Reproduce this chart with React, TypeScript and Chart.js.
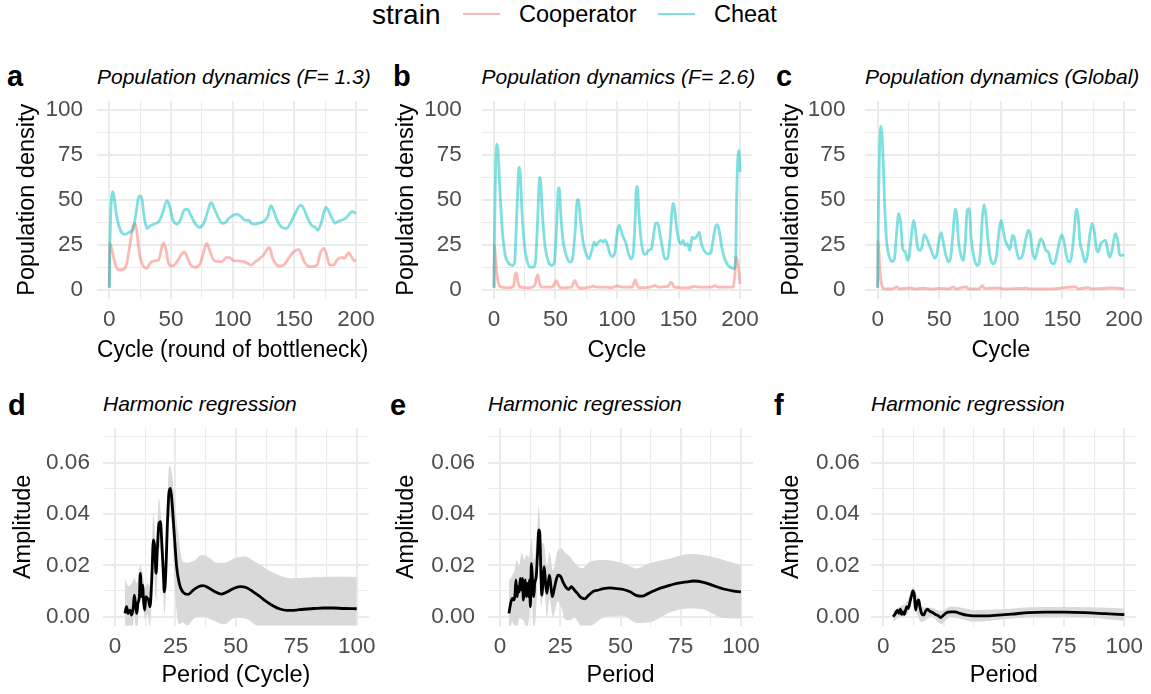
import React, { useEffect, useRef } from "react";
import { Chart, registerables } from "chart.js";
Chart.register(...registerables);

const FONT = "'Liberation Sans', Arial, Helvetica, sans-serif";
const COOP = "rgba(248,118,109,0.5)";
const CHEAT = "rgba(0,191,196,0.5)";
const GRID = "#EBEBEB";
const TICK = "#4D4D4D";
const RIBBON = "#D9D9D9";

// ---------- Panel a (F = 1.3) ----------
const aCheatX = [0, 0.5, 2.5, 3.5, 6, 10, 13, 17, 19, 22, 24, 26, 28, 30.5, 33, 36.5, 40, 42.7, 46.8, 49, 51.6, 55, 57.6, 60.8, 63.5, 66, 69.8, 73, 76.5, 79.7, 82.5, 85, 88, 91.4, 94, 96.8, 100.8, 103.5, 106, 110, 113.8, 115, 118.4, 122.4, 125, 128.4, 131, 133, 136, 140, 143.5, 146.8, 150.8, 155, 157.6, 160.3, 163.8, 167, 169, 171.7, 173.8, 175.7, 178, 180.6, 183.3, 185, 188.7, 191.4, 194, 196.8, 200];
const aCheatY = [1, 26, 54.5, 53, 40.6, 31.7, 30.7, 32.2, 33, 44, 52, 51.7, 41.5, 34, 35.4, 36.5, 37.8, 41.5, 49.5, 46, 38.7, 36.5, 38.7, 44.3, 44.7, 41.5, 36.5, 34.6, 36.9, 43.4, 48.5, 45.2, 40.6, 36.9, 37.2, 39.6, 41.5, 42, 41, 38.7, 38.3, 36.9, 36.5, 37.2, 37.8, 40.6, 46.7, 44.3, 38.7, 34.6, 34, 36.9, 42.5, 47, 45.2, 40.6, 35.9, 34.6, 33, 36.9, 42.5, 45.8, 43.4, 39.6, 36.9, 37.8, 38.7, 39.6, 41.5, 43.4, 42.4];
const aCoopX = [0, 0.3, 1.4, 5, 7.6, 11, 13.8, 16.5, 19.2, 21, 22.5, 24.6, 27.9, 30.5, 33, 36.5, 40, 42, 44, 46, 48, 51, 55, 58, 61, 63.5, 66, 69.8, 73.8, 76.5, 79, 82, 84.6, 88, 91.4, 95, 98, 100.8, 104.9, 109, 113, 115, 118.4, 122.4, 125.7, 128.4, 130, 132, 134.6, 138, 141.4, 145.4, 149.5, 153.5, 155.4, 158, 161, 164.3, 168.4, 171, 173.8, 176, 178.6, 182, 184.6, 188.7, 190.6, 194, 196, 198, 200];
const aCoopY = [1, 25.5, 24, 13.6, 10.9, 11.2, 13.6, 23.9, 35.4, 36.5, 31.3, 19.2, 12.7, 11.8, 14.6, 16, 16.4, 22, 26, 22, 14.6, 13.1, 15.5, 19.2, 21, 17.4, 13.6, 12.4, 14.6, 21, 25.7, 20.5, 16.4, 15.5, 15.5, 17.9, 17.7, 16, 16, 15.5, 14.2, 13.6, 15.5, 17.4, 19.8, 22.9, 23.3, 18.3, 14.6, 13.1, 13.6, 17.4, 21, 22.4, 20.1, 15.5, 13.1, 12.7, 13.6, 20.1, 22.9, 19.8, 13.6, 13.6, 16.4, 17.9, 17.4, 20.5, 18.7, 16.4, 16];

// ---------- Panel b (F = 2.6) ----------
const bCheatX = [0, 0.3, 2.2, 3.2, 5.1, 7, 9.2, 11.9, 15.1, 16.8, 18, 19.5, 20.3, 21.4, 22.7, 24.6, 26.8, 29.5, 32.2, 34, 35.7, 37, 37.8, 39.5, 41.6, 44.3, 47, 49.2, 51, 52.4, 53.2, 54.6, 56.5, 59.2, 61.9, 63.8, 66, 67.6, 68.6, 70.3, 72.7, 75.4, 77.3, 79.5, 81.6, 83, 84.9, 87, 89, 90.3, 92.4, 94.3, 96.2, 98.4, 99.7, 101.6, 103.2, 105, 107, 109, 111.4, 113.2, 114.6, 116, 116.8, 117.8, 120, 122.2, 124, 125.4, 128, 129.5, 131.4, 133, 134.9, 136.8, 139, 141, 143, 144.3, 145.7, 147, 148.4, 150.3, 151.9, 153.8, 155, 157.3, 159.2, 161, 163.2, 165.4, 166.8, 168.6, 170.8, 173.5, 176.2, 178.1, 180, 181.6, 183.5, 185.4, 187.6, 190.3, 193, 195, 196.5, 197.3, 198.4, 199.2, 200];
const bCheatY = [1, 24.6, 81, 77.7, 51.6, 31, 19, 14.7, 13.4, 15.3, 33, 59, 68, 64.6, 44, 25.5, 16.2, 12.5, 12.5, 18, 42.3, 62.4, 61, 40.4, 23.6, 15.3, 13.4, 16.2, 36.7, 56.8, 55.3, 38.5, 25.5, 18, 15.3, 17.1, 33, 49.7, 50, 38.5, 25.5, 19, 17.1, 21.8, 26.4, 24.6, 26.4, 27.4, 26.4, 27.7, 24.6, 19.9, 18.4, 20.9, 29.2, 35.8, 33, 29.2, 26.4, 20.9, 17.1, 19.9, 36.7, 57.5, 56.2, 42.3, 25.5, 19.6, 19.9, 21.8, 22.7, 29.2, 37, 37, 31.1, 23.6, 17.1, 17.1, 27.4, 40.4, 47.9, 44.1, 34.8, 27.4, 25.5, 27.4, 24.6, 25.5, 21.8, 29.2, 28.3, 30.2, 32, 25.5, 21.8, 19.9, 20.3, 27.4, 34.8, 36.1, 31.1, 22.7, 17.1, 13.4, 12.1, 11.5, 18, 51.6, 74.9, 77.3, 65.5];
const bCoopX = [0, 0.3, 1, 2.4, 4.3, 6.5, 12, 16, 17.3, 18.1, 19.5, 21.4, 28, 33, 34.6, 35.7, 36.8, 38.9, 47, 49.2, 50.8, 52.4, 55, 63, 64.9, 66, 67.6, 70, 78, 80.8, 83.5, 90.3, 95.7, 100.5, 103.8, 112, 114, 115, 116.5, 118.6, 126.7, 130.8, 133.5, 141.6, 143.8, 144.9, 146.5, 157.8, 163.2, 168.6, 176.8, 179.5, 182, 194.3, 195.7, 197, 198.4, 200];
const bCoopY = [1, 24.6, 20, 8.8, 2.2, 1.3, 0.9, 2.2, 8.8, 9.3, 4.1, 1.3, 0.9, 2.2, 6.9, 8.2, 4.1, 1.3, 1.3, 3.2, 5, 2.2, 0.9, 1.3, 4.1, 5, 2.2, 0.7, 1.3, 1.9, 1.3, 1.3, 1.1, 2, 1.3, 1.3, 4.1, 5.4, 2.2, 0.9, 1.3, 2.2, 1.3, 1.7, 4.1, 3.5, 1.3, 0.9, 1.7, 1.3, 1.3, 2.2, 1.3, 1.3, 6.9, 18, 14.3, 3.2];

// ---------- Panel c (Global) ----------
const cCheatX = [0, 0.3, 2.5, 3.5, 4.6, 5.9, 7.3, 9.5, 11.6, 13.5, 15.4, 17, 18.6, 20.3, 22.4, 24.3, 25.7, 27.6, 29.2, 30.5, 32.4, 34.3, 35.9, 37.8, 39.7, 41.9, 44, 46.2, 47.8, 50, 51.6, 53.2, 55.4, 57.6, 59.5, 61.4, 63, 64.1, 65.7, 67.6, 69.5, 71.1, 72.7, 74.3, 75.9, 78.4, 81, 83.2, 85.1, 86.5, 87.8, 89.7, 91.9, 94, 96.5, 98.6, 100.3, 101.9, 103.5, 105.4, 107.3, 109.5, 110.8, 112.7, 114.9, 117.6, 120.3, 122.4, 124.1, 125.7, 127.8, 129.7, 132.4, 134.3, 136.5, 138.6, 140.8, 143.2, 145.9, 147.8, 149.5, 151.4, 153.2, 155.4, 157.6, 159.5, 161.4, 162.7, 164.3, 166.2, 168.4, 170.3, 172.2, 174.3, 176, 177.6, 179.2, 181.1, 183, 185.1, 186.5, 188.4, 190, 191.9, 193.2, 194.9, 196.5, 198.1, 200];
const cCheatY = [1, 27, 91, 86, 69, 43, 26.4, 18, 15.6, 17, 32, 42.3, 37.6, 22.7, 20.9, 16.2, 19, 32, 38.5, 33.9, 23.6, 21.8, 23.6, 30.5, 28.7, 24.6, 20.9, 17.5, 19, 28.3, 31.7, 26.4, 19, 15.3, 19, 33.9, 44.7, 42.3, 26.4, 19, 16.2, 26.4, 44.1, 45, 28.3, 17.1, 13.4, 19, 41.3, 47.3, 41.3, 26.4, 16.2, 14.3, 19, 33, 38.5, 33, 27.4, 24.6, 22.2, 30.2, 29.2, 21.8, 17.1, 19, 28.3, 33, 30.2, 20.9, 17.1, 21.8, 28.3, 26.4, 21.8, 20.9, 15.3, 14.3, 20.9, 27.4, 30.5, 26.4, 19, 15.3, 19, 32, 44.7, 41.3, 26.4, 20.9, 15.3, 19, 30.2, 36.7, 32, 22.7, 20.9, 25.5, 26.8, 27.4, 22.7, 18, 20.9, 28.3, 31.1, 27.4, 19.4, 19, 19.4];
const cCoopX = [0, 0.3, 1.9, 3.5, 5.4, 12, 15.4, 17.6, 27, 29.7, 36.5, 44.6, 50, 58, 61.4, 63.5, 71.6, 73.8, 82, 85.1, 86.8, 98.6, 101.4, 120.3, 125, 140, 160.3, 163, 171, 174, 190.5, 200];
const cCoopY = [1, 27, 9.7, 1.9, 0.4, 0.4, 1.5, 0.4, 0.9, 0.4, 0.7, 0.4, 0.6, 0.4, 1.5, 0.4, 1.5, 0.4, 0.4, 2.2, 0.6, 0.9, 0.4, 0.7, 0.4, 0.4, 1.5, 0.4, 1.1, 0.4, 0.9, 0.4];

// ---------- Panel d (harmonic regression, F = 1.3) ----------
const dPeriod = [4.1, 4.8, 5.4, 6.2, 6.9, 7.6, 8, 8.6, 9, 9.5, 10.1, 10.5, 11, 11.4, 11.9, 12.3, 12.8, 13.4, 13.9, 14.5, 15.2, 15.9, 16.4, 17, 17.5, 18.2, 18.8, 19.3, 20, 20.4, 21, 21.7, 22.3, 22.9, 23.4, 24.4, 25.5, 26.6, 28.3, 30.3, 32.4, 34.5, 36.6, 38.6, 41.4, 44.1, 46.5, 49, 51.7, 54.5, 57.2, 60, 62.8, 65.5, 68.3, 71, 73.8, 77.9, 82.3, 86.2, 90.3, 94.5, 100];
const dAmp = [0.0013, 0.0039, 0.0013, 0.0026, 0.0006, 0.0039, 0.0084, 0.0039, 0.0013, 0.0052, 0.0078, 0.0169, 0.0078, 0.0123, 0.0052, 0.0026, 0.0078, 0.0071, 0.0065, 0.0039, 0.0143, 0.0299, 0.0273, 0.0169, 0.026, 0.0364, 0.037, 0.0299, 0.0169, 0.0097, 0.0169, 0.0364, 0.048, 0.05, 0.0468, 0.0338, 0.0195, 0.013, 0.0094, 0.0087, 0.0104, 0.0117, 0.0121, 0.0113, 0.0097, 0.0088, 0.0097, 0.011, 0.0117, 0.0113, 0.0097, 0.0078, 0.0058, 0.0042, 0.003, 0.0025, 0.0025, 0.0029, 0.0032, 0.0034, 0.0034, 0.0032, 0.0031];
const dBandX = [4.1, 5.5, 7, 8, 9, 10.5, 11.5, 12.5, 13.5, 14.5, 15.9, 17, 18.2, 19.5, 20.5, 22.5, 23.5, 25, 26.5, 28, 30, 33, 36, 39, 42, 45, 50, 54, 57, 62, 67, 72, 80, 90, 100];
const dUpper = [0.015, 0.012, 0.013, 0.015, 0.013, 0.02, 0.016, 0.011, 0.013, 0.012, 0.04, 0.028, 0.046, 0.033, 0.021, 0.059, 0.056, 0.042, 0.03, 0.0215, 0.021, 0.022, 0.024, 0.023, 0.021, 0.021, 0.023, 0.0235, 0.022, 0.019, 0.0165, 0.015, 0.0153, 0.0156, 0.0155];
const dLower = [-0.012, -0.008, -0.011, 0.001, -0.01, 0.014, 0.006, -0.001, 0.001, -0.004, 0.02, 0.006, 0.027, 0.021, 0.001, 0.039, 0.036, 0.008, -0.003, -0.0023, -0.0034, -0.0004, 0, -0.0008, -0.002, -0.003, -0.0004, -0.0007, -0.0024, -0.006, -0.0093, -0.01, -0.0093, -0.0088, -0.0093];

// ---------- Panel e (harmonic regression, F = 2.6) ----------
const ePeriod = [3.7, 4.4, 5.1, 5.8, 6.2, 6.6, 7.1, 7.5, 8, 8.4, 8.9, 9.3, 9.7, 10.1, 10.5, 10.9, 11.4, 11.8, 12.2, 12.6, 13, 13.4, 14, 14.4, 15, 15.5, 16.1, 16.5, 16.9, 17.3, 17.9, 18.3, 18.8, 19.4, 19.9, 20.5, 21, 21.7, 22.4, 23.3, 24.1, 25.2, 26.3, 27.4, 28.5, 29.6, 30.7, 32.1, 33.5, 35.2, 36.8, 38.8, 40.9, 42.9, 45.7, 48.5, 51.2, 54, 56.8, 58.9, 61.6, 65.1, 69.3, 73.4, 77.6, 80.3, 84.5, 88.6, 92.8, 97, 100];
const eAmp = [0.0013, 0.0052, 0.0071, 0.0065, 0.0084, 0.0143, 0.0078, 0.0117, 0.0097, 0.0149, 0.0104, 0.0149, 0.0065, 0.0117, 0.0143, 0.0078, 0.013, 0.0078, 0.0143, 0.0039, 0.0208, 0.0156, 0.0078, 0.013, 0.0156, 0.0234, 0.0338, 0.0325, 0.0195, 0.0084, 0.0143, 0.0195, 0.0143, 0.0091, 0.0123, 0.0162, 0.013, 0.0078, 0.0104, 0.0143, 0.0162, 0.0156, 0.0132, 0.0114, 0.0106, 0.0117, 0.0106, 0.0091, 0.0075, 0.007, 0.0084, 0.0099, 0.0104, 0.0109, 0.0112, 0.0109, 0.0106, 0.0097, 0.0082, 0.008, 0.0091, 0.0106, 0.0119, 0.013, 0.0136, 0.0139, 0.0134, 0.0121, 0.0108, 0.01, 0.0097];
const eBandX = [3.7, 5, 6, 7, 8, 9, 10, 11, 12, 13, 14, 15, 16.1, 17, 18.3, 19.5, 20.5, 22, 24, 25.5, 27, 29, 31, 34, 37.4, 43, 51, 56.8, 62, 70.6, 79, 84.5, 92.8, 100];
const eUpper = [0.014, 0.016, 0.018, 0.022, 0.02, 0.025, 0.022, 0.024, 0.023, 0.03, 0.022, 0.028, 0.043, 0.03, 0.028, 0.02, 0.025, 0.018, 0.026, 0.0266, 0.025, 0.0234, 0.021, 0.0188, 0.0214, 0.0221, 0.0208, 0.0188, 0.0208, 0.0227, 0.0244, 0.024, 0.0221, 0.0201];
const eLower = [-0.011, -0.002, -0.004, -0.006, -0.0006, -0.001, -0.002, -0.006, -0.001, 0.01, -0.006, 0.003, 0.025, 0.004, 0.011, 0, 0.007, 0, 0.006, 0.0034, -0.001, -0.0014, -0.0004, -0.0042, -0.0038, -0.0003, 0.0004, -0.0024, -0.0022, 0.0017, 0.0032, 0.0028, -0.0005, -0.0007];

// ---------- Panel f (harmonic regression, Global) ----------
const fPeriod = [4.1, 5.1, 5.9, 6.5, 7.1, 7.6, 8.2, 8.7, 9.3, 9.8, 10.4, 11.1, 11.8, 12.3, 12.9, 13.4, 14.1, 14.7, 15.2, 15.9, 16.7, 17.6, 18.4, 19.2, 20.3, 21.7, 22.8, 23.9, 25, 26.4, 27.8, 29.7, 31.8, 34.6, 37.3, 42.2, 47.7, 53.3, 60.2, 67.1, 75.4, 83.7, 92, 100];
const fAmp = [0, 0.0013, 0.0026, 0.0013, 0.0029, 0.0009, 0.0019, 0.0009, 0.0026, 0.0039, 0.0032, 0.0058, 0.0084, 0.0101, 0.0084, 0.0026, 0.0058, 0.0065, 0.0039, 0.0013, 0.0006, 0.0022, 0.0029, 0.0022, 0.0017, 0.0009, 0.0004, -0.0003, 0.0006, 0.0016, 0.0019, 0.0019, 0.0013, 0.0006, 0.0003, 0.0003, 0.0006, 0.001, 0.0016, 0.0018, 0.0018, 0.0016, 0.0012, 0.0008];
const fBandX = [4.1, 7, 10, 12.3, 14, 16, 20, 24, 28, 32, 38, 50, 65, 80, 100];
const fUpper = [0.002, 0.004, 0.006, 0.0115, 0.0085, 0.004, 0.0035, 0.0022, 0.004, 0.0036, 0.0026, 0.003, 0.0038, 0.0038, 0.0032];
const fLower = [-0.002, 0, 0.001, 0.0085, 0.001, -0.002, 0, -0.0028, 0, -0.0008, -0.002, -0.001, 0, -0.0001, -0.0016];

// ---------- Axes ----------
const topXTicks = [0, 25, 50, 75, 100, 125, 150, 175, 200];
const topXLabels = [0, 50, 100, 150, 200];
const topYTicks = [0, 12.5, 25, 37.5, 50, 62.5, 75, 87.5, 100];
const topYLabels = [0, 25, 50, 75, 100];
const botXTicks = [0, 12.5, 25, 37.5, 50, 62.5, 75, 87.5, 100];
const botXLabels = [0, 25, 50, 75, 100];
const botYTicks = [0, 0.01, 0.02, 0.03, 0.04, 0.05, 0.06, 0.07];
const botYLabels = [0, 0.02, 0.04, 0.06];

const pts = (xs: number[], ys: number[]) => xs.map((x, i) => ({ x, y: ys[i] }));

const popSets = (cx: number[], cy: number[], px: number[], py: number[]) => [
  { data: pts(cx, cy), borderColor: CHEAT, borderWidth: 2.8, pointRadius: 0, fill: false, cubicInterpolationMode: "monotone" },
  { data: pts(px, py), borderColor: COOP, borderWidth: 2.8, pointRadius: 0, fill: false, cubicInterpolationMode: "monotone" },
];

const harmSets = (lx: number[], ly: number[], bx: number[], up: number[], lo: number[]) => [
  { data: pts(lx, ly), borderColor: "#000000", borderWidth: 2.8, pointRadius: 0, fill: false, cubicInterpolationMode: "monotone" },
  { data: pts(bx, up), borderColor: "rgba(0,0,0,0)", borderWidth: 0, pointRadius: 0, backgroundColor: RIBBON, fill: "+1", cubicInterpolationMode: "monotone" },
  { data: pts(bx, lo), borderColor: "rgba(0,0,0,0)", borderWidth: 0, pointRadius: 0, fill: false, cubicInterpolationMode: "monotone" },
];

type Spec = {
  canvas: { left: number; top: number; width: number; height: number };
  area: { left: number; top: number; right: number; bottom: number };
  datasets: any[];
  top: boolean;
  xTitle: string;
  yTitle: string;
  yTitleCenter: number;
  yTickGap: number;
};

const zeroPad = (s: any) => {
  s.paddingTop = 0;
  s.paddingBottom = 0;
  s.paddingLeft = 0;
  s.paddingRight = 0;
};

function Panel({ spec }: { spec: Spec }) {
  const ref = useRef<HTMLCanvasElement>(null);
  const c = spec.canvas;
  useEffect(() => {
    const a = spec.area;
    const isTop = spec.top;
    const xT = isTop ? topXTicks : botXTicks;
    const xL = isTop ? topXLabels : botXLabels;
    const yT = isTop ? topYTicks : botYTicks;
    const yL = isTop ? topYLabels : botYLabels;
    const xMin = isTop ? -10 : -5;
    const xMax = isTop ? 210 : 105;
    const yMin = isTop ? -5 : -0.0035;
    const yMax = isTop ? 105 : 0.0735;
    const xTickPad = isTop ? 10.25 : 10;
    const xTitlePad = isTop ? 9.25 : 6.25;
    const chart = new Chart(ref.current as HTMLCanvasElement, {
      type: "line",
      data: { datasets: spec.datasets as any },
      options: {
        animation: false,
        responsive: false,
        maintainAspectRatio: false,
        devicePixelRatio: 1,
        layout: { padding: { left: 0, top: a.top - c.top, right: c.left + c.width - a.right, bottom: 0 } },
        plugins: { legend: { display: false }, tooltip: { enabled: false }, title: { display: false } },
        scales: {
          x: {
            type: "linear",
            min: xMin,
            max: xMax,
            afterBuildTicks: (s: any) => { s.ticks = xT.map((v) => ({ value: v })); },
            afterFit: (s: any) => { s.height = c.top + c.height - a.bottom; zeroPad(s); },
            ticks: {
              autoSkip: false,
              maxRotation: 0,
              padding: xTickPad,
              color: TICK,
              font: { family: FONT, size: 22.5, lineHeight: 1 },
              callback: (v: any) => (xL.includes(v) ? String(v) : ""),
            },
            grid: {
              color: GRID,
              drawTicks: false,
              lineWidth: (ctx: any) => (xL.includes(ctx.tick?.value) ? 2 : 1.1),
            },
            border: { display: false },
            title: {
              display: true,
              text: spec.xTitle,
              color: "#000000",
              font: { family: FONT, size: 23.5, lineHeight: 1 },
              padding: { top: 0, bottom: xTitlePad },
            },
          },
          y: {
            type: "linear",
            min: yMin,
            max: yMax,
            afterBuildTicks: (s: any) => { s.ticks = yT.map((v) => ({ value: v })); },
            afterFit: (s: any) => { s.width = a.left - c.left; zeroPad(s); },
            ticks: {
              autoSkip: false,
              padding: spec.yTickGap,
              color: TICK,
              font: { family: FONT, size: 22.5, lineHeight: 1 },
              callback: (v: any) => (yL.includes(v) ? (isTop ? String(v) : Number(v).toFixed(2)) : ""),
            },
            grid: {
              color: GRID,
              drawTicks: false,
              lineWidth: (ctx: any) => (yL.includes(ctx.tick?.value) ? 2 : 1.1),
            },
            border: { display: false },
            title: {
              display: true,
              text: spec.yTitle,
              color: "#000000",
              font: { family: FONT, size: 23.5, lineHeight: 1 },
              padding: { top: spec.yTitleCenter - c.left - 11.75, bottom: 0 },
            },
          },
        },
      } as any,
    });
    return () => chart.destroy();
  }, []);
  return (
    <canvas
      ref={ref}
      width={c.width}
      height={c.height}
      style={{ position: "absolute", left: c.left, top: c.top, width: c.width, height: c.height }}
    />
  );
}

const specs: Spec[] = [
  {
    canvas: { left: 0, top: 96, width: 380, height: 276 },
    area: { left: 97, top: 101, right: 368.3, bottom: 298.5 },
    datasets: popSets(aCheatX, aCheatY, aCoopX, aCoopY),
    top: true, xTitle: "Cycle (round of bottleneck)", yTitle: "Population density", yTitleCenter: 27.5, yTickGap: 14,
  },
  {
    canvas: { left: 384, top: 96, width: 381, height: 276 },
    area: { left: 481.7, top: 101, right: 752.3, bottom: 298.5 },
    datasets: popSets(bCheatX, bCheatY, bCoopX, bCoopY),
    top: true, xTitle: "Cycle", yTitle: "Population density", yTitleCenter: 407, yTickGap: 20,
  },
  {
    canvas: { left: 768, top: 96, width: 383, height: 276 },
    area: { left: 865.4, top: 101, right: 1136.3, bottom: 298.5 },
    datasets: popSets(cCheatX, cCheatY, cCoopX, cCoopY),
    top: true, xTitle: "Cycle", yTitle: "Population density", yTitleCenter: 792, yTickGap: 20,
  },
  {
    canvas: { left: 0, top: 423, width: 380, height: 271 },
    area: { left: 102.9, top: 428, right: 368.8, bottom: 625.7 },
    datasets: harmSets(dPeriod, dAmp, dBandX, dUpper, dLower),
    top: false, xTitle: "Period (Cycle)", yTitle: "Amplitude", yTitleCenter: 24, yTickGap: 13,
  },
  {
    canvas: { left: 384, top: 423, width: 381, height: 271 },
    area: { left: 488, top: 428, right: 753, bottom: 625.7 },
    datasets: harmSets(ePeriod, eAmp, eBandX, eUpper, eLower),
    top: false, xTitle: "Period", yTitle: "Amplitude", yTitleCenter: 407, yTickGap: 13,
  },
  {
    canvas: { left: 768, top: 423, width: 383, height: 271 },
    area: { left: 871.2, top: 428, right: 1136.4, bottom: 625.7 },
    datasets: harmSets(fPeriod, fAmp, fBandX, fUpper, fLower),
    top: false, xTitle: "Period", yTitle: "Amplitude", yTitleCenter: 792, yTickGap: 11.5,
  },
];

const letters = [
  { t: "a", left: 7, top: 61.5 },
  { t: "b", left: 393, top: 61.5 },
  { t: "c", left: 776, top: 61.5 },
  { t: "d", left: 8, top: 390.5 },
  { t: "e", left: 390, top: 390.5 },
  { t: "f", left: 774, top: 390.5 },
];

const titles = [
  { t: "Population dynamics (F= 1.3)", left: 97, top: 65.5 },
  { t: "Population dynamics (F= 2.6)", left: 481.5, top: 65.5 },
  { t: "Population dynamics (Global)", left: 865, top: 65.5 },
  { t: "Harmonic regression", left: 103, top: 393.2 },
  { t: "Harmonic regression", left: 488, top: 393.2 },
  { t: "Harmonic regression", left: 871, top: 393.2 },
];

const txt = (size: number, extra: any = {}) => ({
  position: "absolute" as const,
  fontFamily: FONT,
  fontSize: size,
  lineHeight: "1",
  whiteSpace: "nowrap" as const,
  color: "#000",
  ...extra,
});

export default function App() {
  return (
    <div style={{ position: "absolute", left: 0, top: 0, width: 1151, height: 694, background: "#fff", overflow: "hidden" }}>
      {/* legend */}
      <div style={txt(28, { left: 372, top: 1.3 })}>strain</div>
      <div style={{ position: "absolute", left: 463, top: 12.6, width: 37, height: 2.8, background: COOP }} />
      <div style={txt(23.5, { left: 519, top: 2.9 })}>Cooperator</div>
      <div style={{ position: "absolute", left: 658, top: 12.6, width: 37, height: 2.8, background: CHEAT }} />
      <div style={txt(23.5, { left: 714, top: 2.9 })}>Cheat</div>
      {letters.map((l) => (
        <div key={l.t} style={txt(29, { left: l.left, top: l.top, fontWeight: "bold" })}>{l.t}</div>
      ))}
      {titles.map((t, i) => (
        <div key={i} style={txt(21, { left: t.left, top: t.top, fontStyle: "italic" })}>{t.t}</div>
      ))}
      {specs.map((s, i) => (
        <Panel key={i} spec={s} />
      ))}
    </div>
  );
}
